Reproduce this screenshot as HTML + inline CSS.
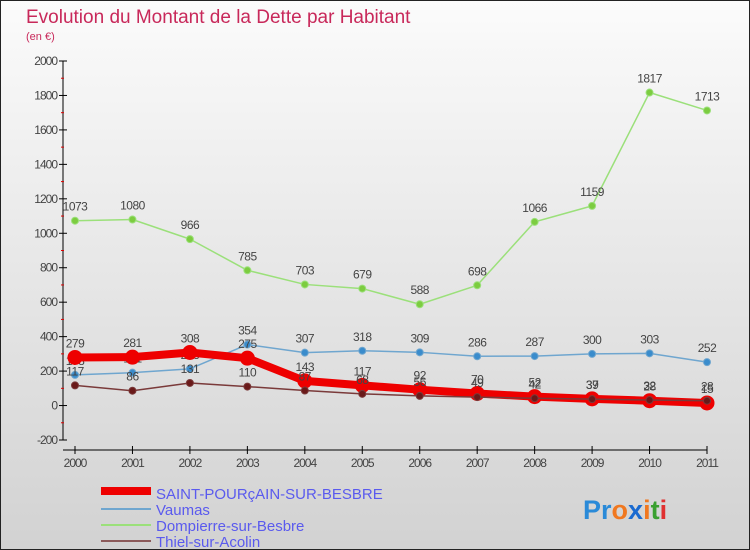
<!DOCTYPE html>
<html><head><meta charset="utf-8"><style>
body{margin:0;}
#c{width:748px;height:548px;border:1px solid #222;background:linear-gradient(#fbfbfb,#d2d2d2);position:relative;font-family:"Liberation Sans",sans-serif;overflow:hidden}
</style></head><body>
<div id="c">
<svg id="s" width="748" height="548" xmlns="http://www.w3.org/2000/svg">
<text x="25" y="22" font-size="19" fill="#c8285a">Evolution du Montant de la Dette par Habitant</text>
<text x="25" y="39" font-size="11" fill="#c8285a">(en €)</text>
<g id="ax"></g><g id="series"></g>
<g font-size="15" fill="#5a5aee">
<rect x="100" y="486" width="50" height="8" fill="#e00"/>
<text x="155" y="498">SAINT-POURçAIN-SUR-BESBRE</text>
<line x1="100" y1="508" x2="150" y2="508" stroke="#6fa6cf" stroke-width="2"/>
<text x="155" y="514">Vaumas</text>
<line x1="100" y1="524" x2="150" y2="524" stroke="#9be07a" stroke-width="2"/>
<text x="155" y="530">Dompierre-sur-Besbre</text>
<line x1="100" y1="540" x2="150" y2="540" stroke="#8b5a5a" stroke-width="2"/>
<text x="155" y="546">Thiel-sur-Acolin</text>
</g>
<text x="582" y="518" font-size="27" font-weight="bold"><tspan fill="#2a8ad8">Pr</tspan><tspan fill="#f07820">o</tspan><tspan fill="#1a6ad0">x</tspan><tspan fill="#f07820">i</tspan><tspan fill="#3aa030">t</tspan><tspan fill="#e03030">i</tspan></text>
</svg>
</div>
<script>
const years=[2000,2001,2002,2003,2004,2005,2006,2007,2008,2009,2010,2011];
const yTicks=[-200,0,200,400,600,800,1000,1200,1400,1600,1800,2000];
const stPourcain=[279,281,308,275,143,117,92,70,52,39,28,15];
const vaumas=[178,191,213,354,307,318,309,286,287,300,303,252];
const dompierre=[1073,1080,966,785,703,679,588,698,1066,1159,1817,1713];
const thiel=[117,86,131,110,87,68,56,49,42,37,32,28];
const NS="http://www.w3.org/2000/svg";
const X=i=>74+i*(706-74)/11;
const Y=v=>439-(v+200)*(379/2200);
function el(t,a,p){const e=document.createElementNS(NS,t);for(const k in a)e.setAttribute(k,a[k]);p.appendChild(e);return e;}
const ax=document.getElementById('ax');
let l=el('line',{x1:62,y1:Y(2000),x2:62,y2:Y(-200),stroke:'#000'},ax);


l=el('line',{x1:62,y1:449,x2:706,y2:449,stroke:'#000'},ax);


yTicks.forEach((v,i)=>{
  const y=Y(v);
  el('line',{x1:58,y1:y,x2:66,y2:y,stroke:'#000'},ax);
  if(i<yTicks.length-1){el('line',{x1:60,y1:Y(v+100),x2:63,y2:Y(v+100),stroke:'#d00'},ax);}
  const t=el('text',{x:56,y:y+4,'font-size':12,fill:'#444','text-anchor':'end','letter-spacing':'-1'},ax);
  t.textContent=v;
  
  
});
years.forEach((yr,i)=>{
  el('line',{x1:X(i),y1:445,x2:X(i),y2:453,stroke:'#000'},ax);
  const t=el('text',{x:X(i),y:466,'font-size':12,fill:'#444','text-anchor':'middle','letter-spacing':'-1'},ax);
  t.textContent=yr;
  
  
});
const sg=document.getElementById('series');
function draw(data,color,w,r,dot,name){
  const g=el('g',{},sg);
  
  
  const pl=el('polyline',{points:data.map((v,i)=>X(i)+','+Y(v)).join(' '),fill:'none',stroke:color,'stroke-width':w,'stroke-linejoin':'round'},g);
  
  
  data.forEach((v,i)=>{
    const c=el('circle',{cx:X(i),cy:Y(v),r:r,fill:dot,stroke:color,'stroke-width':1},g);
    
    
    const t=el('text',{x:X(i),y:Y(v)-10,'font-size':12,fill:'#444','text-anchor':'middle','letter-spacing':'-0.5'},g);
    t.textContent=v;
    
    
  });
}
draw(dompierre,'#9be07a',1.5,3.5,'#7ccc40','dompierre');
draw(vaumas,'#6fa6cf',1.5,3.5,'#3a8ccc','vaumas');
draw(stPourcain,'#ee0000',8,7,'#ee0000','saint-pourcain');
draw(thiel,'#7a3a3a',1.5,3.5,'#6a1a1a','thiel');
</script>
</body></html>
